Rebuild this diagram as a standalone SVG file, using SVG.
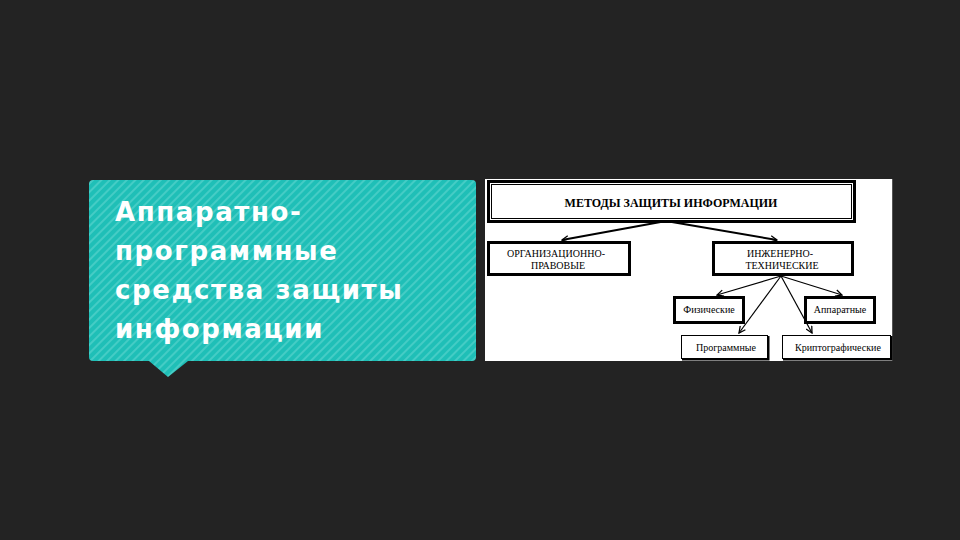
<svg xmlns="http://www.w3.org/2000/svg" width="960" height="540" viewBox="0 0 960 540">
<defs>
<pattern id="stripes" patternUnits="userSpaceOnUse" width="6" height="6" patternTransform="rotate(45)">
<rect width="6" height="6" fill="#1fbfb7"/>
<rect width="2" height="6" fill="#45ccc5"/>
</pattern>
<marker id="ah" viewBox="0 0 10 10" refX="9" refY="5" markerWidth="8" markerHeight="8" markerUnits="userSpaceOnUse" orient="auto">
<path d="M1,1 L9,5 L1,9" fill="none" stroke="#000" stroke-width="1.6"/>
</marker>
</defs>
<style>
.title{font-family:"DejaVu Sans",sans-serif;font-weight:bold;font-size:26px;fill:#ffffff;letter-spacing:1.6px}
.t{font-family:"Liberation Serif",serif;fill:#000;text-anchor:middle}
.thick{fill:#fff;stroke:#000;stroke-width:3}
.thin{fill:none;stroke:#000;stroke-width:1}
.c{stroke:#000;fill:none}
</style>
<rect width="960" height="540" fill="#232323"/>
<g id="callout">
<path d="M93,180 H472 Q476,180 476,184 V357 Q476,361 472,361 H188 L168,377 L149,361 H93 Q89,361 89,357 V184 Q89,180 93,180 Z" fill="url(#stripes)"/>
<text class="title" x="115" y="221">Аппаратно-</text>
<text class="title" x="115" y="260">программные</text>
<text class="title" x="115" y="299">средства защиты</text>
<text class="title" x="115" y="338">информации</text>
</g>
<g id="picture">
<rect x="485" y="179" width="408" height="182" fill="#ffffff"/>
<line x1="892.5" y1="179" x2="892.5" y2="361" stroke="#555" stroke-width="1"/>
</g>
<g id="connectors">
<line class="c" x1="666" y1="221" x2="562" y2="240" stroke-width="2" marker-end="url(#ah)"/>
<line class="c" x1="666" y1="221" x2="777" y2="240" stroke-width="2" marker-end="url(#ah)"/>
<line class="c" x1="781" y1="276" x2="717" y2="295" stroke-width="1.2" marker-end="url(#ah)"/>
<line class="c" x1="781" y1="276" x2="842" y2="295" stroke-width="1.2" marker-end="url(#ah)"/>
<line class="c" x1="781" y1="276" x2="739" y2="333" stroke-width="1.2" marker-end="url(#ah)"/>
<line class="c" x1="781" y1="276" x2="812" y2="333" stroke-width="1.2" marker-end="url(#ah)"/>
</g>
<g id="n-methods">
<rect class="thick" x="488.5" y="181.5" width="366" height="40"/>
<rect class="thin" x="491.5" y="184.5" width="360" height="34"/>
<text class="t" x="671" y="207" font-size="12" font-weight="bold">МЕТОДЫ ЗАЩИТЫ ИНФОРМАЦИИ</text>
</g>
<g id="n-org">
<rect class="thick" x="488.5" y="242.5" width="141" height="32"/>
<text class="t" x="556" y="257" font-size="10">ОРГАНИЗАЦИОННО-</text>
<text class="t" x="558" y="269" font-size="10">ПРАВОВЫЕ</text>
</g>
<g id="n-eng">
<rect class="thick" x="713.5" y="242.5" width="139" height="32"/>
<text class="t" x="780" y="257" font-size="10">ИНЖЕНЕРНО-</text>
<text class="t" x="782" y="269" font-size="10">ТЕХНИЧЕСКИЕ</text>
</g>
<g id="n-phys">
<rect class="thick" x="674.5" y="297.5" width="69" height="25"/>
<text class="t" x="709" y="313" font-size="10">Физические</text>
</g>
<g id="n-hw">
<rect class="thick" x="805.5" y="297.5" width="69" height="25"/>
<text class="t" x="840" y="313" font-size="10">Аппаратные</text>
</g>
<g id="n-sw">
<rect x="681.5" y="335.5" width="86" height="23" fill="#fff" stroke="#000" stroke-width="1"/>
<path d="M768.5,336 V359.5 H682" fill="none" stroke="#000" stroke-width="2"/>
<text class="t" x="726" y="351" font-size="10">Программные</text>
</g>
<g id="n-crypto">
<rect x="782.5" y="335.5" width="108" height="23" fill="#fff" stroke="#000" stroke-width="1"/>
<path d="M891.5,336 V359.5 H783" fill="none" stroke="#000" stroke-width="2"/>
<text class="t" x="838" y="351" font-size="10">Криптографические</text>
</g>
</svg>
